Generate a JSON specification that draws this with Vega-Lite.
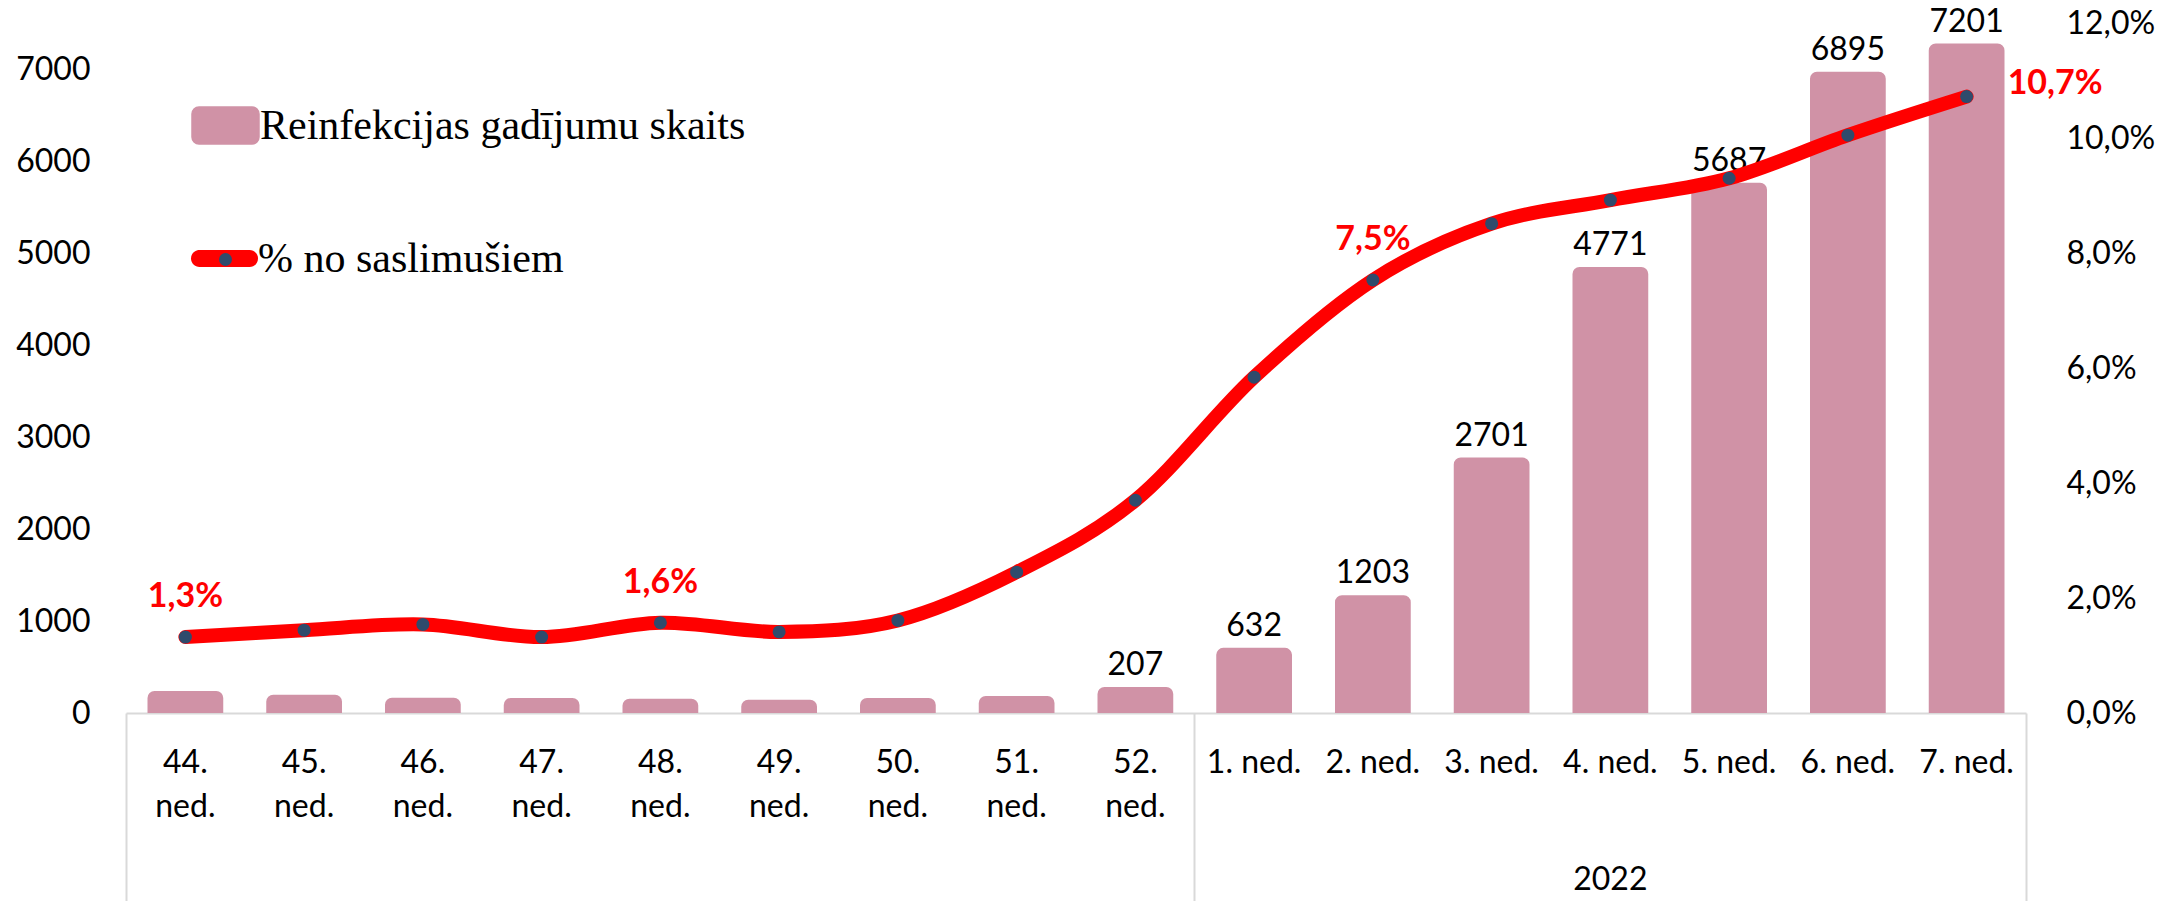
{
  "$schema": "https://vega.github.io/schema/vega-lite/v6.json",
  "width": 1900,
  "height": 690,
  "autosize": {"type": "none"},
  "padding": {"left": 126, "top": 23, "right": 154, "bottom": 188},
  "background": "white",
  "config": {
    "view": {"stroke": null},
    "font": "Lato",
    "locale": {"number": {"decimal": ",", "thousands": " ", "grouping": [3], "currency": ["", " €"]}}
  },
  "data": {
    "values": [
      {"week": "44. ned.", "cases": 163, "pct": 0.0132},
      {"week": "45. ned.", "cases": 123, "pct": 0.0144},
      {"week": "46. ned.", "cases": 90, "pct": 0.0154},
      {"week": "47. ned.", "cases": 87, "pct": 0.0132},
      {"week": "48. ned.", "cases": 79, "pct": 0.0157},
      {"week": "49. ned.", "cases": 68, "pct": 0.0141},
      {"week": "50. ned.", "cases": 87, "pct": 0.0161},
      {"week": "51. ned.", "cases": 109, "pct": 0.0245},
      {"week": "52. ned.", "cases": 207, "pct": 0.0370},
      {"week": "1. ned.", "cases": 632, "pct": 0.0584},
      {"week": "2. ned.", "cases": 1203, "pct": 0.0753},
      {"week": "3. ned.", "cases": 2701, "pct": 0.0851},
      {"week": "4. ned.", "cases": 4771, "pct": 0.0892},
      {"week": "5. ned.", "cases": 5687, "pct": 0.0930},
      {"week": "6. ned.", "cases": 6895, "pct": 0.1005},
      {"week": "7. ned.", "cases": 7201, "pct": 0.1072}
    ]
  },
  "resolve": {"scale": {"y": "independent"}, "axis": {"x": "independent", "y": "independent"}},
  "layer": [
    {
      "mark": {"type": "bar", "width": {"band": 0.52}, "stroke": "#D092A6", "strokeWidth": 14, "strokeJoin": "round", "clip": true},
      "encoding": {
        "x": {
          "field": "week", "type": "nominal", "sort": null,
          "scale": {
            "domain": ["44. ned.", "45. ned.", "46. ned.", "47. ned.", "48. ned.", "49. ned.", "50. ned.", "51. ned.", "52. ned.", "1. ned.", "2. ned.", "3. ned.", "4. ned.", "5. ned.", "6. ned.", "7. ned."],
            "paddingInner": 0, "paddingOuter": 0
          },
          "axis": {
            "orient": "bottom", "title": null, "labelAngle": 0, "labelFont": "Lato", "labelFontSize": 32, "labelColor": "#000000",
            "labelPadding": 34, "labelLineHeight": 44, "labelBaseline": "top",
            "labelExpr": "length(datum.label) > 7 ? split(datum.label, ' ') : datum.label",
            "ticks": false, "domain": true, "domainColor": "#D9D9D9", "domainWidth": 2,
            "labelOverlap": false, "labelLimit": 2000, "grid": false
          }
        },
        "y": {
          "field": "cases", "type": "quantitative",
          "scale": {"domain": [0, 7500], "nice": false},
          "axis": {
            "orient": "left", "title": null, "values": [0, 1000, 2000, 3000, 4000, 5000, 6000, 7000], "format": "d",
            "grid": false, "domain": false, "ticks": false, "labelPadding": 36,
            "labelFont": "Lato", "labelFontSize": 32, "labelColor": "#000000"
          }
        },
        "fill": {
          "datum": "Reinfekcijas gadījumu skaits", "type": "nominal",
          "scale": {"range": ["#D092A6"]},
          "legend": {
            "orient": "none", "legendX": 65, "legendY": 68, "title": null,
            "symbolType": "M-0.79,-0.552 L0.79,-0.552 A0.21,0.21 0 0 1 1,-0.342 L1,0.342 A0.21,0.21 0 0 1 0.79,0.552 L-0.79,0.552 A0.21,0.21 0 0 1 -1,0.342 L-1,-0.342 A0.21,0.21 0 0 1 -0.79,-0.552 Z",
            "symbolSize": 4489, "labelFont": "Liberation Serif", "labelFontSize": 42, "labelColor": "#000000",
            "labelOffset": 0, "labelLimit": 2000, "padding": 0,
            "encode": {"symbols": {"update": {"fill": {"value": "#D092A6"}, "strokeWidth": {"value": 0}, "opacity": {"value": 1}}}}
          }
        }
      }
    },
    {
      "transform": [{"filter": "datum.cases >= 200"}],
      "mark": {"type": "text", "font": "Lato", "fontSize": 32, "color": "#000000", "baseline": "alphabetic", "dy": -19},
      "encoding": {
        "x": {"field": "week", "type": "nominal", "sort": null, "axis": null},
        "y": {"field": "cases", "type": "quantitative", "scale": {"domain": [0, 7500], "nice": false}, "axis": null},
        "text": {"field": "cases", "type": "quantitative", "format": "d"}
      }
    },
    {
      "mark": {"type": "line", "strokeWidth": 14, "strokeCap": "round", "strokeJoin": "round", "interpolate": "cardinal", "tension": 0},
      "encoding": {
        "x": {
          "field": "week", "type": "nominal", "sort": null,
          "axis": {
            "orient": "bottom", "title": null, "values": ["44. ned.", "1. ned."], "bandPosition": 0, "ticks": true,
            "tickSize": 188, "tickColor": "#D9D9D9", "tickWidth": 2, "labels": false, "domain": false, "grid": false
          }
        },
        "y": {
          "field": "pct", "type": "quantitative",
          "scale": {"domain": [0, 0.12], "nice": false},
          "axis": {
            "orient": "right", "title": null, "values": [0, 0.02, 0.04, 0.06, 0.08, 0.1, 0.12], "format": ".1%",
            "grid": false, "domain": false, "ticks": false, "labelPadding": 40,
            "labelFont": "Lato", "labelFontSize": 32, "labelColor": "#000000"
          }
        },
        "stroke": {
          "datum": "% no saslimušiem", "type": "nominal",
          "scale": {"range": ["#FF0000"]},
          "legend": {
            "orient": "none", "legendX": 65, "legendY": 202, "title": null,
            "symbolType": "M-0.746,-0.254 L0.746,-0.254 A0.254,0.254 0 0 1 0.746,0.254 L-0.746,0.254 A0.254,0.254 0 0 1 -0.746,-0.254 Z",
            "symbolSize": 4489, "labelFont": "Liberation Serif", "labelFontSize": 42, "labelColor": "#000000",
            "labelOffset": 0, "labelLimit": 2000, "padding": 0,
            "encode": {"symbols": {"update": {"fill": {"value": "#FF0000"}, "strokeWidth": {"value": 0}, "opacity": {"value": 1}}}}
          }
        }
      }
    },
    {
      "mark": {"type": "point", "filled": true, "size": 169, "color": "#2F4B6C", "opacity": 1, "strokeWidth": 0},
      "encoding": {
        "x": {
          "field": "week", "type": "nominal", "sort": null,
          "axis": {
            "orient": "bottom", "title": null, "values": ["4. ned."], "labelExpr": "'2022'", "ticks": false, "domain": false,
            "labelPadding": 151, "labelFont": "Lato", "labelFontSize": 32, "labelColor": "#000000",
            "labelBaseline": "top", "labelAngle": 0, "grid": false
          }
        },
        "y": {"field": "pct", "type": "quantitative", "scale": {"domain": [0, 0.12], "nice": false}, "axis": null},
        "shape": {
          "datum": "dot", "type": "nominal",
          "scale": {"range": ["circle"]},
          "legend": {
            "orient": "none", "legendX": 92, "legendY": 229, "title": null, "labelExpr": "''", "labelFontSize": 1,
            "symbolSize": 169, "padding": 0,
            "encode": {"symbols": {"update": {"fill": {"value": "#2F4B6C"}, "strokeWidth": {"value": 0}, "opacity": {"value": 1}}}}
          }
        }
      }
    },
    {
      "transform": [{"filter": {"field": "week", "oneOf": ["44. ned.", "48. ned.", "2. ned."]}}],
      "mark": {"type": "text", "font": "Lato", "fontWeight": "bold", "fontSize": 34, "color": "#FF0000", "baseline": "middle", "align": "center", "dy": -40},
      "encoding": {
        "x": {"field": "week", "type": "nominal", "sort": null, "axis": null},
        "y": {"field": "pct", "type": "quantitative", "scale": {"domain": [0, 0.12], "nice": false}, "axis": null},
        "text": {"field": "pct", "type": "quantitative", "format": ".1%"}
      }
    },
    {
      "transform": [{"filter": {"field": "week", "oneOf": ["7. ned."]}}],
      "mark": {"type": "text", "font": "Lato", "fontWeight": "bold", "fontSize": 34, "color": "#FF0000", "baseline": "middle", "align": "left", "dx": 41, "dy": -13},
      "encoding": {
        "x": {
          "field": "week", "type": "nominal", "sort": null,
          "axis": {
            "orient": "bottom", "title": null, "values": ["7. ned."], "bandPosition": 1, "ticks": true,
            "tickSize": 188, "tickColor": "#D9D9D9", "tickWidth": 2, "labels": false, "domain": false, "grid": false
          }
        },
        "y": {"field": "pct", "type": "quantitative", "scale": {"domain": [0, 0.12], "nice": false}, "axis": null},
        "text": {"field": "pct", "type": "quantitative", "format": ".1%"}
      }
    }
  ]
}
